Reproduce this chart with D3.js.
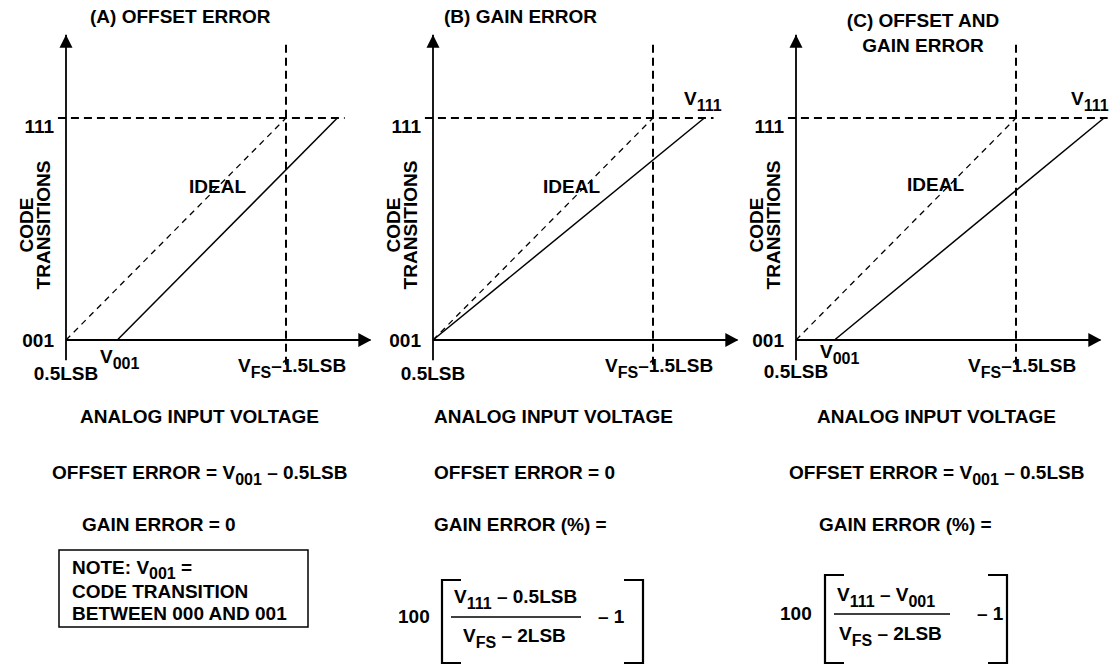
<!DOCTYPE html>
<html lang="en">
<head>
<meta charset="UTF-8">
<title>ADC offset and gain error</title>
<script src="https://d3js.org/d3.v7.min.js"></script>
<style>
  body { margin: 0; background: #fff; }
  svg { display: block; font-family: "Liberation Sans", Arial, sans-serif; font-weight: bold; fill: #000; }
</style>
</head>
<body>
<div id="chart"></div>
<script>
// ---- data (x in LSB, y in output code) ----
const panelIds = ["A", "B", "C"];
const titles = [["(A) OFFSET ERROR"], ["(B) GAIN ERROR"], ["(C) OFFSET AND", "GAIN ERROR"]];
const codeTicks = [1, 7];
const codeLabels = ["001", "111"];
const idealLine = [[0.5, 1], [6.5, 7]];
const actualStart = [[1.9, 1], [0.5, 1], [1.55, 1]];
const actualEnd = [[7.9, 7], [7.9, 7], [8.9, 7]];
const fullScaleMark = 6.5;
const refEnd = [8.1, 8.15, 9.0];      // how far the 111 reference runs
const showV001 = [true, false, true];
const showV111 = [false, true, true];
const offsetText = [
  ["OFFSET ERROR = V", ["001"], " \u2013 0.5LSB"],
  ["OFFSET ERROR = 0"],
  ["OFFSET ERROR = V", ["001"], " \u2013 0.5LSB"]
];
const gainText = ["GAIN ERROR = 0", "GAIN ERROR (%) =", "GAIN ERROR (%) ="];
const numerators = [null, ["V", ["111"], " \u2013 0.5LSB"], ["V", ["111"], " \u2013 V", ["001"]]];
const denominator = ["V", ["FS"], " \u2013 2LSB"];
const noteLines = [["NOTE: V", ["001"], " ="], ["CODE TRANSITION"], ["BETWEEN 000 AND 001"]];

// ---- layout ----
const width = 1113, height = 665;
const axisX = [66, 433, 796];
const titleX = [90, 444, 923];
const titleAnchor = ["start", "start", "middle"];
const idealX = [189, 543, 907];
const v001X = [100, null, 820];
const v111X = [null, 684, 1071];
const analogX = [80, 434, 817];
const offsetX = [52, 434, 789];
const gainX = [82, 434, 819];

const svg = d3.select("#chart").append("svg")
  .attr("width", width).attr("height", height);

function rich(sel, x, y, parts, size, anchor, shift) {
  const t = sel.append("text")
    .attr("x", x).attr("y", y)
    .attr("text-anchor", anchor || "start")
    .style("font-size", (size || 19) + "px");
  let cur = 0;
  parts.forEach(p => {
    const sub = Array.isArray(p);
    const target = sub ? (shift || 6) : 0;
    t.append("tspan")
      .attr("dy", target - cur)
      .style("font-size", sub ? "16px" : null)
      .text(sub ? p[0] : p);
    cur = target;
  });
  return t;
}

function arrow(g, x, y, dir) {
  // dir: "up" or "right"
  const p = dir === "up"
    ? [[x, y], [x - 6.5, y + 13], [x + 6.5, y + 13]]
    : [[x, y], [x - 13, y - 7], [x - 13, y + 7]];
  g.append("path").attr("d", "M" + p.join("L") + "Z").attr("fill", "#000");
}

panelIds.forEach((id, i) => {
  const g = svg.append("g");
  const x = d3.scaleLinear().domain([0.5, 6.5]).range([axisX[i], axisX[i] + 220]);
  const y = d3.scaleLinear().domain([1, 7]).range([340, 118]);
  const line = d3.line().x(d => x(d[0])).y(d => y(d[1]));

  // reference dashes
  g.append("path").attr("d", line([[0.28, 7], [refEnd[i], 7]]))
    .attr("stroke", "#000").attr("stroke-width", 2).attr("stroke-dasharray", "8,5").attr("fill", "none");
  g.append("path").attr("d", line([[fullScaleMark, 0.33], [fullScaleMark, 9.05]]))
    .attr("stroke", "#000").attr("stroke-width", 2).attr("stroke-dasharray", "8,5").attr("fill", "none");

  // axes
  g.append("path").attr("d", line([[0.5, 0.45], [0.5, 9.25]]))
    .attr("stroke", "#000").attr("stroke-width", 1.8).attr("fill", "none");
  g.append("path").attr("d", line([[0.5, 1], [8.8, 1]]))
    .attr("stroke", "#000").attr("stroke-width", 1.8).attr("fill", "none");
  arrow(g, x(0.5), y(9.25), "up");
  arrow(g, x(8.8) + 1, y(1), "right");

  // ideal and actual transfer lines
  g.append("path").attr("d", line(idealLine))
    .attr("stroke", "#000").attr("stroke-width", 1.3).attr("stroke-dasharray", "6,5").attr("fill", "none");
  g.append("path").attr("d", line([actualStart[i], actualEnd[i]]))
    .attr("stroke", "#000").attr("stroke-width", 1.5).attr("fill", "none");

  // titles
  titles[i].forEach((t, k) => {
    g.append("text").attr("x", titleX[i]).attr("y", (i === 2 ? 27 : 23) + k * 25)
      .attr("text-anchor", titleAnchor[i]).style("font-size", "19px").text(t);
  });

  // y labels
  codeTicks.forEach((c, k) => {
    g.append("text").attr("x", x(0.5) - 12).attr("y", y(c) + (k === 0 ? 7 : 15))
      .attr("text-anchor", "end").style("font-size", "19px").text(codeLabels[k]);
  });
  [["CODE", -33], ["TRANSITIONS", -16]].forEach(([t, dx]) => {
    g.append("text")
      .attr("transform", `translate(${x(0.5) + dx},225) rotate(-90)`)
      .attr("text-anchor", "middle")
      .style("font-size", "19px").text(t);
  });

  g.append("text").attr("x", idealX[i]).attr("y", i === 2 ? 191 : 193)
    .style("font-size", "19px").text("IDEAL");

  // x labels
  g.append("text").attr("x", x(0.5)).attr("y", i === 2 ? 378 : 380)
    .attr("text-anchor", "middle").style("font-size", "19px").text("0.5LSB");
  rich(g, x(fullScaleMark) - 48, 372, ["V", ["FS"], "\u20131.5LSB"]);
  if (showV001[i]) rich(g, v001X[i], i === 2 ? 358 : 363, ["V", ["001"]]);
  if (showV111[i]) rich(g, v111X[i], 105, ["V", ["111"]]);

  // bottom text
  g.append("text").attr("x", analogX[i]).attr("y", 423).style("font-size", "19px").text("ANALOG INPUT VOLTAGE");
  rich(g, offsetX[i], 479, offsetText[i]);
  g.append("text").attr("x", gainX[i]).attr("y", 531).style("font-size", "19px").text(gainText[i]);
});

// note box under panel A
svg.append("rect").attr("x", 59).attr("y", 550).attr("width", 249).attr("height", 77)
  .attr("fill", "none").attr("stroke", "#000").attr("stroke-width", 1.5);
noteLines.forEach((l, k) => rich(svg, 72, (k === 0 ? 574 : 576) + k * 22, l, 19, "start", 5));

// gain error formulas for B and C
const fx = [
  { hundred: 398, base: 623, bl: 442, br: 643, top: 580, fl: [451, 581], fy: 617, num: 454, nb: 603, den: 463, db: 642, m1: 598 },
  { hundred: 780, base: 620, bl: 825, br: 1007, top: 575, fl: [834, 950], fy: 614, num: 837, nb: 601, den: 839, db: 640, m1: 977 }
];
fx.forEach((f, k) => {
  const g = svg.append("g");
  g.append("text").attr("x", f.hundred).attr("y", f.base).style("font-size", "19px").text("100");
  const br = (x0, x1) => `M${x1},${f.top}H${x0}V663H${x1}`;
  g.append("path").attr("d", br(f.bl, f.bl + 19)).attr("fill", "none").attr("stroke", "#000").attr("stroke-width", 2.2);
  g.append("path").attr("d", br(f.br, f.br - 19)).attr("fill", "none").attr("stroke", "#000").attr("stroke-width", 2.2);
  g.append("line").attr("x1", f.fl[0]).attr("x2", f.fl[1]).attr("y1", f.fy).attr("y2", f.fy)
    .attr("stroke", "#000").attr("stroke-width", 1.3);
  rich(g, f.num, f.nb, numerators[k + 1]);
  rich(g, f.den, f.db, denominator);
  g.append("text").attr("x", f.m1).attr("y", f.base).style("font-size", "19px").text("\u2013 1");
});
</script>
</body>
</html>
